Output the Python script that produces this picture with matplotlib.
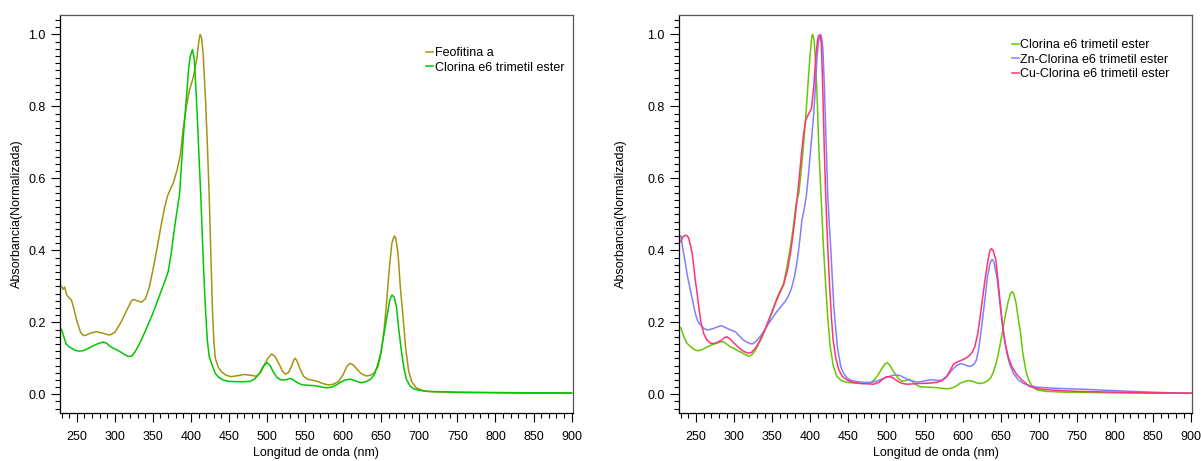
import matplotlib
matplotlib.use("Agg")
import matplotlib.pyplot as plt
from matplotlib.ticker import MultipleLocator

plt.rcParams['font.family'] = ['Liberation Sans', 'DejaVu Sans']

# Feofitina a
wl_feo = [230, 232, 234, 237, 240, 243, 246, 250, 255, 259, 263, 268, 276, 284, 290, 294,
          300, 308, 316, 322, 325, 329, 335, 340, 345, 350, 355, 360, 365, 369, 373, 377,
          382, 386, 390, 394, 398, 403, 407.5, 410, 412, 414, 416, 419.4, 422, 424, 426, 428,
          430, 432, 436, 440, 446, 453, 462, 470, 478, 486, 492, 496, 501, 506, 510, 515,
          520, 524, 528, 532, 535, 537, 540, 543, 548, 553, 560, 566, 573, 580, 587, 594,
          600, 605, 609, 613, 618, 624, 630, 636, 641, 646, 650, 654, 657, 661, 664, 667,
          669, 672, 675, 679, 682, 686, 690, 696, 705, 718, 750, 800, 850, 900]
abs_feo = [0.300, 0.292, 0.298, 0.275, 0.268, 0.262, 0.240, 0.205, 0.172, 0.163, 0.165, 0.170,
           0.174, 0.170, 0.166, 0.165, 0.172, 0.200, 0.235, 0.260, 0.264, 0.260, 0.256, 0.265,
           0.295, 0.345, 0.400, 0.460, 0.515, 0.550, 0.570, 0.588, 0.625, 0.665, 0.740, 0.800,
           0.845, 0.880, 0.929, 0.975, 1.000, 0.990, 0.947, 0.808, 0.670, 0.550, 0.400, 0.250,
           0.150, 0.100, 0.075, 0.063, 0.053, 0.049, 0.052, 0.055, 0.053, 0.050, 0.062, 0.080,
           0.100, 0.112, 0.106, 0.088, 0.065, 0.056, 0.060, 0.077, 0.095, 0.100, 0.090, 0.072,
           0.050, 0.042, 0.039, 0.036, 0.030, 0.026, 0.028, 0.036, 0.055, 0.078, 0.086, 0.082,
           0.070, 0.057, 0.051, 0.053, 0.060, 0.078, 0.120, 0.185, 0.255, 0.360, 0.420, 0.440,
           0.435, 0.392, 0.300, 0.206, 0.130, 0.065, 0.035, 0.018, 0.010, 0.007, 0.005, 0.004,
           0.003, 0.003]

# Clorina e6 trimetil ester (panel izquierdo)
wl_clo1 = [230, 233, 236, 240, 244, 248, 253, 258, 264, 270, 276, 281, 285, 289, 294, 298,
           303, 308, 313, 318, 322, 326, 330, 335, 341, 347, 352, 357, 362, 366, 370, 374,
           377, 381, 385, 390, 394.5, 397, 399, 402, 404.5, 407, 409, 411, 413, 416, 418.5,
           421.5, 424, 427, 432, 436, 442, 449, 460, 470, 478, 484, 490, 495, 500, 504, 508,
           513, 518, 524, 530, 533, 537, 542, 547, 555, 562, 570, 578, 585, 591, 597, 603,
           609, 614, 619, 624, 630, 636, 641, 645, 649, 653, 657, 661, 664, 667, 670, 673,
           677, 680, 683, 688, 694, 700, 710, 750, 800, 850, 900]
abs_clo1 = [0.180, 0.160, 0.140, 0.132, 0.127, 0.122, 0.120, 0.121, 0.126, 0.133, 0.139, 0.143,
            0.145, 0.142, 0.133, 0.128, 0.123, 0.117, 0.110, 0.105, 0.106, 0.116, 0.131, 0.152,
            0.180, 0.210, 0.236, 0.265, 0.293, 0.316, 0.340, 0.390, 0.440, 0.500, 0.555, 0.716,
            0.835, 0.905, 0.938, 0.958, 0.930, 0.830, 0.740, 0.640, 0.550, 0.380, 0.260, 0.150,
            0.105, 0.086, 0.058, 0.048, 0.040, 0.036, 0.035, 0.035, 0.036, 0.043, 0.058, 0.078,
            0.088, 0.080, 0.063, 0.047, 0.040, 0.040, 0.044, 0.042, 0.036, 0.030, 0.026, 0.025,
            0.024, 0.021, 0.018, 0.020, 0.026, 0.034, 0.040, 0.042, 0.039, 0.035, 0.032, 0.035,
            0.042, 0.055, 0.080, 0.110, 0.160, 0.210, 0.260, 0.276, 0.270, 0.243, 0.180, 0.112,
            0.070, 0.042, 0.022, 0.014, 0.011, 0.008, 0.006, 0.005, 0.004, 0.004]

# Clorina e6 trimetil ester (panel derecho)
wl_clo2 = [230, 234, 238, 243, 248, 252, 258, 264, 270, 277, 282, 286, 290, 295, 300, 305,
           310, 315, 319, 323, 327, 331, 337, 343, 350, 356, 361, 365, 369, 374, 378, 381,
           385, 388, 391, 394, 396, 398, 400, 402, 403, 405, 407, 408.5, 410, 411.5, 413,
           414.5, 417, 420, 423, 426, 430, 435, 441, 448, 460, 470, 478, 484, 489, 494, 498,
           501, 504, 508, 512, 516, 520, 525, 530, 534, 539, 544, 552, 562, 572, 580, 587,
           592, 597, 603, 608, 613, 618, 623, 628, 633, 637, 641, 645, 648, 652, 656, 660,
           663, 665, 667, 670, 673, 676, 679, 683, 687, 692, 698, 710, 735, 800, 850, 900]
abs_clo2 = [0.185, 0.160, 0.142, 0.132, 0.124, 0.121, 0.124, 0.131, 0.137, 0.142, 0.146, 0.146,
            0.140, 0.132, 0.127, 0.121, 0.116, 0.110, 0.106, 0.109, 0.120, 0.135, 0.160, 0.190,
            0.228, 0.266, 0.290, 0.308, 0.350, 0.410, 0.470, 0.525, 0.560, 0.620, 0.690, 0.770,
            0.830, 0.895, 0.950, 0.995, 1.000, 0.985, 0.920, 0.854, 0.760, 0.670, 0.600, 0.535,
            0.420, 0.310, 0.210, 0.135, 0.080, 0.049, 0.038, 0.033, 0.031, 0.030, 0.031, 0.040,
            0.054, 0.072, 0.084, 0.088, 0.082, 0.068, 0.055, 0.043, 0.036, 0.038, 0.042, 0.036,
            0.026, 0.021, 0.020, 0.019, 0.017, 0.015, 0.018, 0.024, 0.031, 0.036, 0.038, 0.036,
            0.032, 0.030, 0.032, 0.038, 0.046, 0.065, 0.095, 0.125, 0.170, 0.218, 0.260, 0.280,
            0.285, 0.280, 0.255, 0.210, 0.170, 0.115, 0.065, 0.038, 0.020, 0.012, 0.008, 0.006,
            0.004, 0.003, 0.003]

# Zn-Clorina e6 trimetil ester
wl_zn = [230, 233, 236, 239, 242.5, 246, 249, 252, 256, 260, 264, 268, 273, 278, 283, 288,
         293, 298, 302, 307, 312, 317, 321, 324, 328, 334, 340, 345, 351, 356, 362, 367, 371,
         375, 379, 383, 386, 389, 392, 395, 398, 400, 402.5, 404.5, 406, 407.5, 409, 410.5,
         412, 413.5, 415, 416.5, 418.5, 420.5, 423, 425, 427, 429, 431, 433.5, 436, 440, 444,
         449, 455, 462, 470, 480, 488, 496, 504, 512, 518, 524, 530, 540, 548, 556, 562, 568,
         573, 579, 584, 588, 592, 597, 602, 607, 611, 615, 618, 621, 625, 629, 632.6, 636,
         638.7, 641, 644.9, 648, 651.5, 655, 658, 662, 666.8, 673, 680, 688, 697.5, 710, 730,
         758, 790, 824, 860, 900]
abs_zn = [0.440, 0.400, 0.364, 0.325, 0.290, 0.255, 0.225, 0.205, 0.192, 0.184, 0.179, 0.180,
          0.183, 0.187, 0.191, 0.186, 0.181, 0.177, 0.173, 0.162, 0.151, 0.145, 0.141, 0.140,
          0.145, 0.160, 0.178, 0.196, 0.214, 0.230, 0.245, 0.258, 0.272, 0.292, 0.325, 0.373,
          0.425, 0.484, 0.515, 0.555, 0.620, 0.670, 0.730, 0.780, 0.830, 0.890, 0.940, 0.975,
          0.995, 1.000, 0.990, 0.960, 0.854, 0.716, 0.549, 0.470, 0.400, 0.317, 0.240, 0.179,
          0.125, 0.077, 0.057, 0.044, 0.038, 0.035, 0.033, 0.033, 0.037, 0.044, 0.050, 0.054,
          0.052, 0.045, 0.039, 0.034, 0.036, 0.040, 0.040, 0.038, 0.040, 0.049, 0.062, 0.072,
          0.080, 0.085, 0.083, 0.078, 0.078, 0.084, 0.095, 0.125, 0.188, 0.260, 0.327, 0.365,
          0.375, 0.367, 0.327, 0.270, 0.206, 0.150, 0.114, 0.082, 0.058, 0.040, 0.030, 0.024,
          0.020, 0.018, 0.016, 0.014, 0.011, 0.008, 0.005, 0.003]

# Cu-Clorina e6 trimetil ester
wl_cu = [230, 233, 236, 238.5, 240.5, 243, 245, 247, 249, 251.5, 253.5, 256.5, 260, 264, 269,
         273, 278, 283, 287, 290, 294, 299.5, 305, 310, 315, 319, 323, 328, 334, 341, 347, 354,
         360, 365, 370, 374, 378, 381, 383, 386, 388.5, 391, 394, 398, 401.5, 404.5, 406,
         407.6, 409.5, 411, 413, 414.5, 416.3, 418.5, 420.3, 422.5, 425, 427.5, 430, 433.5,
         437.4, 442, 448, 456, 466, 475, 483, 490, 495, 499, 504, 509, 515.6, 521, 527, 535,
         544, 555, 566, 573, 579, 584, 588, 593, 599, 604, 608, 612, 616, 620, 623, 626, 629.5,
         632.6, 635.5, 637.8, 640, 643.6, 646.5, 649.3, 652.5, 655.8, 660, 664.6, 671, 677.7,
         683, 688.6, 700, 715, 750, 800, 850, 900]
abs_cu = [0.424, 0.438, 0.442, 0.440, 0.433, 0.412, 0.390, 0.355, 0.317, 0.280, 0.243, 0.200,
          0.169, 0.152, 0.142, 0.141, 0.144, 0.150, 0.157, 0.160, 0.155, 0.143, 0.132, 0.123,
          0.117, 0.114, 0.117, 0.128, 0.150, 0.183, 0.215, 0.253, 0.282, 0.304, 0.345, 0.392,
          0.455, 0.510, 0.549, 0.615, 0.670, 0.720, 0.762, 0.780, 0.794, 0.854, 0.900, 0.947,
          0.985, 0.998, 0.995, 0.975, 0.854, 0.670, 0.549, 0.430, 0.317, 0.220, 0.150, 0.100,
          0.068, 0.050, 0.040, 0.033, 0.030, 0.029, 0.028, 0.033, 0.042, 0.048, 0.049, 0.045,
          0.035, 0.030, 0.028, 0.029, 0.030, 0.031, 0.033, 0.038, 0.049, 0.068, 0.084, 0.090,
          0.095, 0.100, 0.106, 0.115, 0.132, 0.170, 0.215, 0.265, 0.320, 0.364, 0.398, 0.405,
          0.400, 0.373, 0.315, 0.253, 0.190, 0.142, 0.103, 0.077, 0.055, 0.040, 0.030, 0.021,
          0.015, 0.012, 0.008, 0.006, 0.004, 0.003]

FS = 9


def style_axis(ax, ylabel_pad):
    ax.set_xlim(228, 901.5)
    ax.set_ylim(-0.052, 1.054)
    ax.xaxis.set_major_locator(MultipleLocator(50))
    ax.xaxis.set_minor_locator(MultipleLocator(10))
    ax.yaxis.set_major_locator(MultipleLocator(0.2))
    ax.yaxis.set_minor_locator(MultipleLocator(0.02))
    ax.yaxis.set_major_formatter(plt.FormatStrFormatter('%.1f'))
    ax.tick_params(which='both', direction='out', top=False, right=False,
                   labelsize=FS, width=0.8, color='black')
    ax.tick_params(which='major', length=6.5)
    ax.tick_params(which='minor', length=3.6)
    ax.tick_params(axis='x', which='major', pad=6.5)
    ax.tick_params(axis='y', which='major', pad=4)
    for side in ['left', 'bottom']:
        ax.spines[side].set_color('black')
        ax.spines[side].set_linewidth(0.9)
    for side in ['top', 'right']:
        ax.spines[side].set_color('#555555')
        ax.spines[side].set_linewidth(0.9)
    ax.set_xlabel('Longitud de onda (nm)', fontsize=FS, labelpad=3)
    ax.set_ylabel('Absorbancia(Normalizada)', fontsize=FS, labelpad=ylabel_pad)


fig = plt.figure(figsize=(12.01, 4.61), dpi=100)
ax1 = fig.add_axes([0.04996, 0.1041, 0.4269, 0.8634])
ax2 = fig.add_axes([0.5656, 0.1041, 0.42716, 0.8634])

ax1.plot(wl_feo, abs_feo, color='#a39412', lw=1.1, label='Feofitina a')
ax1.plot(wl_clo1, abs_clo1, color='#00c800', lw=1.1, label='Clorina e6 trimetil ester')
style_axis(ax1, 4)
ax1.legend(loc='upper left', bbox_to_anchor=(0.714, 0.919), frameon=False, fontsize=FS,
           handlelength=0.55, handletextpad=0.15, borderpad=0, borderaxespad=0,
           labelspacing=0.2)

ax2.plot(wl_clo2, abs_clo2, color='#66c800', lw=1.1, label='Clorina e6 trimetil ester')
ax2.plot(wl_zn, abs_zn, color='#8080ff', lw=1.1, label='Zn-Clorina e6 trimetil ester')
ax2.plot(wl_cu, abs_cu, color='#ff3378', lw=1.1, label='Cu-Clorina e6 trimetil ester')
style_axis(ax2, 15)
ax2.legend(loc='upper left', bbox_to_anchor=(0.648, 0.939), frameon=False, fontsize=FS,
           handlelength=0.55, handletextpad=0.15, borderpad=0, borderaxespad=0,
           labelspacing=0.2)

plt.savefig('out.png', dpi=100)
